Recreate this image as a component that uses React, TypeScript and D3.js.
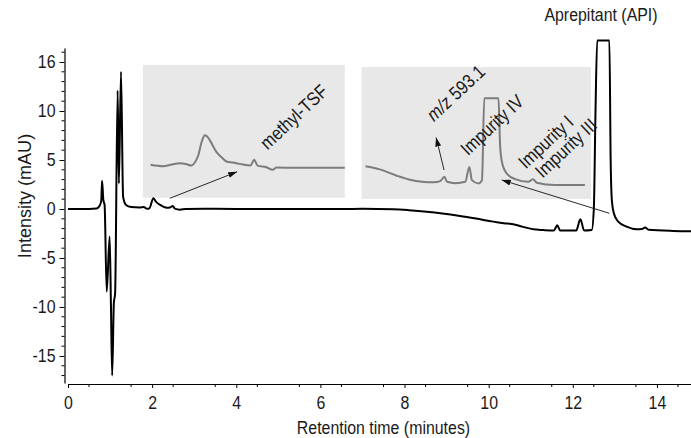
import React, { useEffect, useRef } from 'react';
import * as d3 from 'd3';

// main chromatogram (minutes, mAU)
const times = [0, 0.5, 0.68, 0.74, 0.79, 0.81, 0.84, 0.87, 0.92, 0.99, 1.02, 1.05, 1.09, 1.12, 1.18, 1.21, 1.26, 1.31, 1.38, 1.5, 1.7, 1.8, 1.87, 1.93, 2.03, 2.1, 2.19, 2.35, 2.42, 2.49, 2.54, 2.66, 2.8, 3.5, 4.5, 5.5, 6.5, 7.0, 7.73, 8.1, 8.53, 8.9, 9.32, 9.7, 10.11, 10.4, 10.5, 10.8, 11.06, 11.3, 11.55, 11.63, 11.7, 12.08, 12.18, 12.27, 12.45, 12.5, 12.54, 12.58, 12.87, 12.9, 12.93, 12.98, 13.08, 13.28, 13.52, 13.64, 13.72, 13.8, 14.39, 14.81];
const intensity = [0, 0, 0.05, 0.25, 0.8, 2.89, 0.92, 0.41, -8.44, -2.82, -9.6, -17.0, -9.6, -8.6, 12.1, 2.6, 14.0, 1.25, 0.4, 0.2, 0.15, 0.2, 0.03, 0.05, 1.09, 0.7, 0.41, 0.13, 0.15, 0.31, 0.03, -0.07, 0, 0.02, 0, 0, 0, 0.02, -0.03, -0.12, -0.27, -0.45, -0.71, -0.98, -1.29, -1.48, -1.5, -1.8, -2.07, -2.15, -2.2, -1.67, -2.2, -2.2, -1.05, -2.2, -2.15, 0, 10, 17.2, 17.2, 5, 0.8, -0.5, -1.29, -1.8, -2.07, -2.05, -1.88, -2.12, -2.24, -2.27];

// inset traces (relative units, 0-100 across each box)
const inset1X = [3.8, 10.0, 14.4, 18.3, 21.3, 24.1, 25.7, 27.4, 29.2, 30.7, 32.2, 33.2, 36.5, 39.1, 41.4, 44.6, 48.0, 53.3, 55.1, 56.8, 61.2, 64.2, 66.2, 76.1, 92.6, 100];
const inset1Y = [24.8, 23.7, 25.0, 26.0, 25.4, 24.2, 26.5, 31.8, 42.4, 47.0, 45.5, 43.2, 34.3, 30.3, 27.3, 26.5, 25.5, 24.2, 28.6, 24.2, 23.0, 21.0, 22.7, 22.5, 22.5, 22.5];
const inset2X = [1.7, 7.5, 14.8, 20.6, 26.4, 31.4, 34.3, 36.1, 37.3, 40.9, 45.2, 47.0, 48.1, 51.0, 52.5, 53.5, 59.7, 60.4, 61.2, 63.3, 67.0, 72.7, 74.7, 76.4, 84.3, 97.4];
const inset2Y = [24.8, 22.6, 18.0, 14.8, 13.0, 12.6, 13.5, 16.8, 13.0, 12.0, 13.0, 24.3, 14.3, 11.8, 14.3, 76.2, 76.2, 40.6, 28.0, 19.3, 15.0, 13.0, 15.0, 12.3, 10.5, 10.5];

const xTicks = [0, 2, 4, 6, 8, 10, 12, 14];
const yTicks = [-15, -10, -5, 0, 5, 10, 15];
const yTickLabels = ['-15', '-10', '-5', '0', '5', '10', '16'];

const FONT = "'Liberation Sans', Arial, sans-serif";
const SQUEEZE = 'scale(0.86,1)'; // the original face is a condensed sans

export default function App() {
  const svgRef = useRef(null);

  useEffect(() => {
    const svg = d3.select(svgRef.current);
    svg.selectAll('*').remove();

    const x = d3.scaleLinear().domain([0, 14.81]).range([68, 691]);
    const y = d3.scaleLinear().domain([-17.76, 16.43]).range([383, 48]);

    svg.append('defs').append('marker')
      .attr('id', 'arrow')
      .attr('markerUnits', 'userSpaceOnUse')
      .attr('markerWidth', 9).attr('markerHeight', 6)
      .attr('refX', 9).attr('refY', 3)
      .attr('orient', 'auto')
      .append('path').attr('d', 'M0,0 L9,3 L0,6 Z').attr('fill', '#111');

    // inset panels, positioned in axis units
    const insets = [
      { t0: 1.78, t1: 6.58, v0: 1.15, v1: 14.7, xs: inset1X, ys: inset1Y },
      { t0: 6.98, t1: 12.43, v0: 1.02, v1: 14.5, xs: inset2X, ys: inset2Y },
    ];
    insets.forEach(b => {
      svg.append('rect')
        .attr('x', x(b.t0)).attr('y', y(b.v1))
        .attr('width', x(b.t1) - x(b.t0)).attr('height', y(b.v0) - y(b.v1))
        .attr('fill', '#e8e8e8');
      const ix = d3.scaleLinear().domain([0, 100]).range([x(b.t0), x(b.t1)]);
      const iy = d3.scaleLinear().domain([0, 100]).range([y(b.v0), y(b.v1)]);
      const pts = b.xs.map((d, i) => [d, b.ys[i]]);
      svg.append('path')
        .datum(pts)
        .attr('fill', 'none')
        .attr('stroke', '#7c7c7c')
        .attr('stroke-width', 2)
        .attr('stroke-linejoin', 'round')
        .attr('d', d3.line().x(d => ix(d[0])).y(d => iy(d[1])).curve(d3.curveMonotoneX));
    });

    // main trace
    const data = times.map((t, i) => ({ t, v: intensity[i] }));
    svg.append('path')
      .datum(data)
      .attr('fill', 'none')
      .attr('stroke', '#000')
      .attr('stroke-width', 2)
      .attr('stroke-linejoin', 'round')
      .attr('d', d3.line().x(d => x(d.t)).y(d => y(d.v)).curve(d3.curveMonotoneX));

    // arrows
    const arrows = [
      [[2.42, 1.09], [4.02, 3.8]],
      [[8.94, 3.98], [8.75, 7.3]],
      [[12.87, -0.44], [10.31, 2.96]],
    ];
    arrows.forEach(([a, b]) => {
      svg.append('line')
        .attr('x1', x(a[0])).attr('y1', y(a[1]))
        .attr('x2', x(b[0])).attr('y2', y(b[1]))
        .attr('stroke', '#111').attr('stroke-width', 0.9)
        .attr('marker-end', 'url(#arrow)');
    });

    // rotated labels
    const labels = [
      { text: 'methyl-TSF', t: 5.37, v: 9.39 },
      { text: 'Impurity IV', t: 10.08, v: 8.57 },
      { text: 'Impurity I', t: 11.36, v: 6.84 },
      { text: 'Impurity III', t: 11.84, v: 6.22 },
    ];
    labels.forEach(l => {
      svg.append('text')
        .attr('transform', `translate(${x(l.t)},${y(l.v)}) rotate(-43) ${SQUEEZE}`)
        .attr('text-anchor', 'middle')
        .attr('dominant-baseline', 'central')
        .attr('font-family', FONT)
        .attr('font-size', 19)
        .attr('fill', '#1a1a1a')
        .text(l.text);
    });
    const mz = svg.append('text')
      .attr('transform', `translate(${x(9.22)},${y(11.84)}) rotate(-43) ${SQUEEZE}`)
      .attr('text-anchor', 'middle')
      .attr('dominant-baseline', 'central')
      .attr('font-family', FONT)
      .attr('font-size', 19)
      .attr('fill', '#1a1a1a');
    mz.append('tspan').attr('font-style', 'italic').text('m/z');
    mz.append('tspan').text(' 593.1');

    svg.append('text')
      .attr('transform', `translate(${x(12.67)},21) ${SQUEEZE}`)
      .attr('text-anchor', 'middle')
      .attr('font-family', FONT)
      .attr('font-size', 18.5)
      .attr('fill', '#1a1a1a')
      .text('Aprepitant (API)');

    // axes
    const xAxis = svg.append('g')
      .attr('transform', 'translate(0,384)')
      .call(d3.axisBottom(x).tickValues(xTicks).tickSize(4).tickPadding(8).tickSizeOuter(0).tickFormat(d3.format('d')));
    xAxis.append('g').selectAll('line')
      .data(d3.range(1, 30, 2).map(d => d / 2))
      .join('line')
      .attr('x1', d => x(d)).attr('x2', d => x(d))
      .attr('y1', 0).attr('y2', 3)
      .attr('stroke', '#000');

    const yAxis = svg.append('g')
      .attr('transform', 'translate(64.5,0)')
      .call(d3.axisLeft(y).tickValues(yTicks).tickSize(5).tickPadding(4).tickSizeOuter(0)
        .tickFormat((d, i) => yTickLabels[i]));
    yAxis.append('g').selectAll('line')
      .data(d3.range(-17, 17).filter(d => d % 5 !== 0))
      .join('line')
      .attr('x1', 0).attr('x2', -3)
      .attr('y1', d => y(d)).attr('y2', d => y(d))
      .attr('stroke', '#000');

    [xAxis, yAxis].forEach(g => {
      g.select('.domain').attr('stroke', '#000').attr('stroke-width', 1.2);
      g.selectAll('.tick line').attr('stroke', '#000');
      g.selectAll('text')
        .attr('fill', '#1a1a1a')
        .attr('font-size', 18.5)
        .attr('font-family', FONT);
    });
    // condense tick labels in place
    xAxis.selectAll('.tick text').attr('transform', SQUEEZE);
    yAxis.selectAll('.tick text')
      .attr('x', -9 / 0.86)
      .attr('transform', SQUEEZE);

    svg.append('text')
      .attr('transform', `translate(${x(7.5)},434) ${SQUEEZE}`)
      .attr('text-anchor', 'middle')
      .attr('font-family', FONT)
      .attr('font-size', 18.5)
      .attr('fill', '#1a1a1a')
      .text('Retention time (minutes)');

    svg.append('text')
      .attr('transform', 'translate(31,196) rotate(-90) scale(0.95,1)')
      .attr('text-anchor', 'middle')
      .attr('font-family', FONT)
      .attr('font-size', 19)
      .attr('fill', '#1a1a1a')
      .text('Intensity (mAU)');
  }, []);

  return (
    <svg ref={svgRef} width={691} height={438}
      style={{ position: 'absolute', left: 0, top: 0, background: '#fff' }} />
  );
}
